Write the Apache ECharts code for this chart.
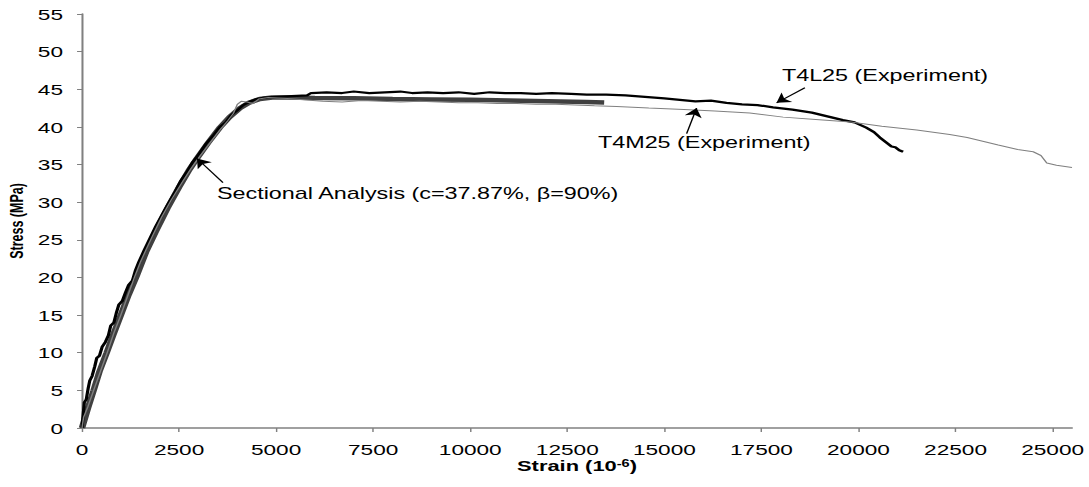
<!DOCTYPE html>
<html>
<head>
<meta charset="utf-8">
<script src="https://cdn.jsdelivr.net/npm/echarts@6/dist/echarts.min.js"></script>
<style>
  html, body { margin: 0; padding: 0; background: #fff; overflow: hidden; }
  /* the source figure is stretched horizontally; draw narrow and scale in x */
  #chart { width: 746px; height: 487px; transform-origin: 0 0; }
</style>
</head>
<body>
<div id="chart"></div>
<script>
// strain (10^-6), stress (MPa)
const sectional = [
  [0, 0], [150, 2.6], [300, 5.0], [450, 7.5], [636, 10.0], [800, 12.3], [1000, 15.0],
  [1200, 17.7], [1400, 20.1], [1650, 23.4], [1900, 26.1], [2200, 29.2], [2500, 32.0],
  [2750, 34.2], [2960, 35.8], [3250, 37.9], [3550, 39.9], [3800, 41.3], [4070, 42.5],
  [4300, 43.2], [4580, 43.7], [4900, 43.9], [5300, 43.9], [6000, 43.85], [7000, 43.8],
  [8000, 43.7], [9000, 43.65], [10000, 43.6], [11000, 43.5], [12000, 43.4], [13000, 43.3],
  [13450, 43.25]
];

const t4l25 = [
  [0, 0], [20, 1.2], [60, 3.4], [110, 3.8], [160, 5.3], [200, 6.3], [260, 6.9], [330, 8.2],
  [380, 9.3], [450, 9.6], [520, 10.8], [600, 11.4], [680, 12.3], [740, 13.6], [820, 14.0],
  [880, 15.2], [950, 16.4], [1040, 16.9], [1120, 18.0], [1200, 19.0], [1300, 19.6],
  [1380, 21.0], [1460, 22.0], [1600, 23.6], [1750, 25.2], [1900, 26.8], [2050, 28.2],
  [2200, 29.6], [2400, 31.4], [2550, 32.9], [2700, 34.0], [2850, 35.3], [3000, 36.3],
  [3200, 37.8], [3400, 39.0], [3550, 40.0], [3700, 40.6], [3850, 41.6], [4000, 42.2],
  [4150, 42.9], [4300, 43.3], [4500, 43.7], [4700, 43.9], [5000, 44.0], [5400, 44.1],
  [5800, 44.2], [5900, 44.5], [6300, 44.6], [6700, 44.5], [7000, 44.7], [7400, 44.5],
  [7800, 44.6], [8200, 44.7], [8500, 44.5], [8900, 44.6], [9300, 44.5], [9700, 44.6],
  [10100, 44.4], [10500, 44.6], [10900, 44.5], [11300, 44.5], [11700, 44.4], [12100, 44.5],
  [12600, 44.4], [13000, 44.3], [13500, 44.3], [14000, 44.2], [14500, 44.0], [15000, 43.8],
  [15400, 43.6], [15800, 43.4], [16200, 43.5], [16600, 43.2], [17000, 43.0], [17400, 42.9],
  [17800, 42.6], [18300, 42.3], [18800, 41.9], [19200, 41.4], [19600, 40.9], [19900, 40.6],
  [20200, 39.9], [20400, 39.3], [20550, 38.6], [20700, 38.0], [20850, 37.4], [20950, 37.3],
  [21050, 36.9], [21150, 36.7]
];

const t4m25 = [
  [0, 0], [40, 1.4], [150, 2.8], [300, 5.0], [480, 7.6], [650, 10.0], [820, 12.6],
  [1000, 15.0], [1180, 17.6], [1350, 20.0], [1500, 22.0], [1650, 23.7], [1850, 25.9],
  [2050, 28.0], [2300, 30.3], [2550, 32.4], [2800, 34.4], [3050, 36.2], [3300, 37.9],
  [3550, 39.6], [3750, 40.8], [3900, 41.8], [4000, 43.0], [4100, 43.4], [4250, 43.3],
  [4400, 43.1], [4550, 43.7], [4800, 43.9], [5200, 43.8], [5700, 43.6], [6200, 43.4],
  [6700, 43.3], [7200, 43.5], [7700, 43.4], [8200, 43.3], [8700, 43.4], [9200, 43.3],
  [9700, 43.2], [10200, 43.2], [10700, 43.1], [11200, 43.1], [11700, 43.0], [12200, 43.0],
  [12700, 42.9], [13200, 42.8], [13770, 42.7], [14600, 42.5], [15500, 42.3], [16300, 42.1],
  [17200, 41.85], [18060, 41.3], [18900, 41.0], [19800, 40.65], [20600, 40.1], [21500, 39.6],
  [22350, 39.0], [22800, 38.6], [23200, 38.1], [23600, 37.6], [24100, 37.0], [24500, 36.7],
  [24700, 36.2], [24850, 35.2], [25100, 34.9], [25500, 34.6]
];

const xTicks = [0, 2500, 5000, 7500, 10000, 12500, 15000, 17500, 20000, 22500, 25000];

// annotation text anchors and arrows: [tail, head] in data units
const notes = [
  { text: 'Sectional Analysis (c=37.87%, β=90%)', at: [3477, 31.1], arrow: [[3631, 32.6], [2962, 35.8]] },
  { text: 'T4L25 (Experiment)', at: [18028, 46.9], arrow: [[18620, 45.2], [17890, 43.2]] },
  { text: 'T4M25 (Experiment)', at: [13290, 37.9], arrow: [[15574, 39.1], [15830, 42.5]] }
];

const W_OUT = 1089;
const el = document.getElementById('chart');
const sx = W_OUT / el.clientWidth;
el.style.transform = 'scaleX(' + sx + ')';

const font = "'Liberation Sans', Arial, sans-serif";
const axisGray = '#808080';
const plain = v => String(v);

const chart = echarts.init(el, null, { renderer: 'svg' });
chart.setOption({
  animation: false,
  textStyle: { fontFamily: font },
  grid: { left: 82 / sx, right: 17 / sx, top: 14, bottom: 59, containLabel: false, outerBoundsMode: 'none' },
  xAxis: {
    type: 'value', min: 0, max: 25500,
    name: 'Strain (10{sup|-6})', nameLocation: 'middle', nameGap: 31, nameMoveOverlap: false,
    nameTextStyle: {
      color: '#000', fontWeight: 'bold', fontSize: 15, lineHeight: 14, fontFamily: font,
      rich: { sup: { fontSize: 10, fontWeight: 'bold', fontFamily: font, verticalAlign: 'top', lineHeight: 10 } }
    },
    axisLine: { lineStyle: { color: axisGray, width: 1.5 } },
    axisTick: { show: true, inside: false, length: 4, lineStyle: { color: axisGray, width: 1 }, customValues: xTicks },
    axisLabel: { color: '#000', fontSize: 15.5, lineHeight: 13, margin: 15, fontFamily: font, customValues: xTicks, formatter: plain },
    splitLine: { show: false }
  },
  yAxis: {
    type: 'value', min: 0, max: 55, interval: 5,
    name: 'Stress (MPa)', nameLocation: 'middle', nameGap: 38, nameMoveOverlap: false,
    nameTextStyle: { color: '#000', fontWeight: 'bold', fontSize: 12.5, fontFamily: font },
    axisLine: { show: true, lineStyle: { color: axisGray, width: 1.4 } },
    axisTick: { show: true, inside: false, length: 3.4, lineStyle: { color: axisGray, width: 1 } },
    axisLabel: { color: '#000', fontSize: 15.5, margin: 13, fontFamily: font, formatter: plain },
    splitLine: { show: false }
  },
  series: [
    {
      name: 'Sectional Analysis', type: 'line', data: sectional, showSymbol: false,
      lineStyle: { color: '#404040', width: 4.5 }, z: 2,
      markLine: {
        silent: true, symbol: ['none', 'arrow'], symbolSize: 9,
        lineStyle: { color: '#000', width: 1, type: 'solid' }, label: { show: false },
        data: notes.map(n => [{ coord: n.arrow[0] }, { coord: n.arrow[1] }])
      },
      markPoint: {
        silent: true, symbol: 'circle', symbolSize: 0,
        data: notes.map(n => ({
          coord: n.at,
          label: { show: true, formatter: n.text, position: 'right', distance: 0, color: '#000', fontSize: 16, fontFamily: font }
        }))
      }
    },
    { name: 'T4L25', type: 'line', data: t4l25, showSymbol: false, lineStyle: { color: '#000', width: 2.2 }, z: 3 },
    { name: 'T4M25', type: 'line', data: t4m25, showSymbol: false, lineStyle: { color: '#808080', width: 1 }, z: 4 }
  ]
});
</script>
</body>
</html>
